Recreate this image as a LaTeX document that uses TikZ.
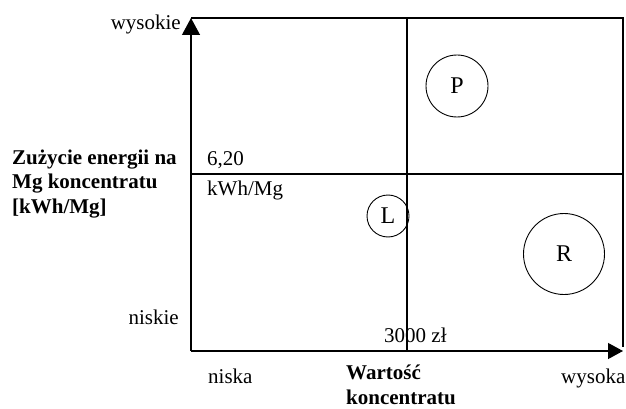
\documentclass[tikz,border=0pt]{standalone}
\usepackage{fontspec}
\setmainfont{Liberation Serif}
\usetikzlibrary{arrows.meta}

\begin{document}
\begin{tikzpicture}[
    x=1pt, y=-1pt,
    frame/.style={draw, line width=1.2pt},
    axis/.style={draw, line width=1.2pt},
    firm/.style={circle, draw, line width=0.9pt, inner sep=0pt, font=\fontsize{24}{28}\selectfont},
    label/.style={inner sep=0pt, font=\fontsize{21}{25}\selectfont},
    title/.style={inner sep=0pt, align=left, font=\fontsize{21}{24.5}\selectfont\bfseries}
]
\useasboundingbox (0,0) rectangle (626,409);

% Define corners of the grid
\coordinate (o) at (191,351);
\coordinate (ytop) at (191,18);
\coordinate (tr) at (623,18);
\coordinate (br) at (623,347);
\coordinate (xend) at (623,351);
\coordinate (mtop) at (407,18);
\coordinate (mbot) at (407,351);
\coordinate (hl) at (191,174);
\coordinate (hr) at (623,174);

% Define axes and grid lines
\path[axis, -{Triangle[length=17pt,width=18pt]}] (o) -- (ytop);
\path[axis, -{Triangle[length=15pt,width=16pt]}] (o) -- (xend);
\path[frame] (ytop) -- (tr) -- (br);
\path[frame] (mtop) -- (mbot);
\path[frame] (hl) -- (hr);

% Define circles
\node[firm, minimum size=62pt] (P) at (457,86) {P};
\node[firm, minimum size=42pt] (L) at (388,216) {L};
\node[firm, minimum size=81pt] (R) at (564,254) {R};

% Define axis labels
\node[label, anchor=base east] (high) at (181,30) {wysokie};
\node[label, anchor=base east] (low) at (179,324) {niskie};
\node[label, anchor=base west] (xlow) at (208,383) {niska};
\node[label, anchor=base west] (xhigh) at (561,383) {wysoka};
\node[label, anchor=base west] (price) at (384,342) {3000 zł};
\node[label, anchor=base west] (energy) at (207,165) {6,20};
\node[label, anchor=base west] (unit) at (207,195) {kWh/Mg};

% Define axis titles
\node[title, anchor=base west] (ytitle) at (12,213) {Zużycie energii na\\Mg koncentratu\\{[kWh/Mg]}};
\node[title, anchor=base west] (xtitle) at (346,404) {Wartość\\koncentratu};

\end{tikzpicture}
\end{document}
